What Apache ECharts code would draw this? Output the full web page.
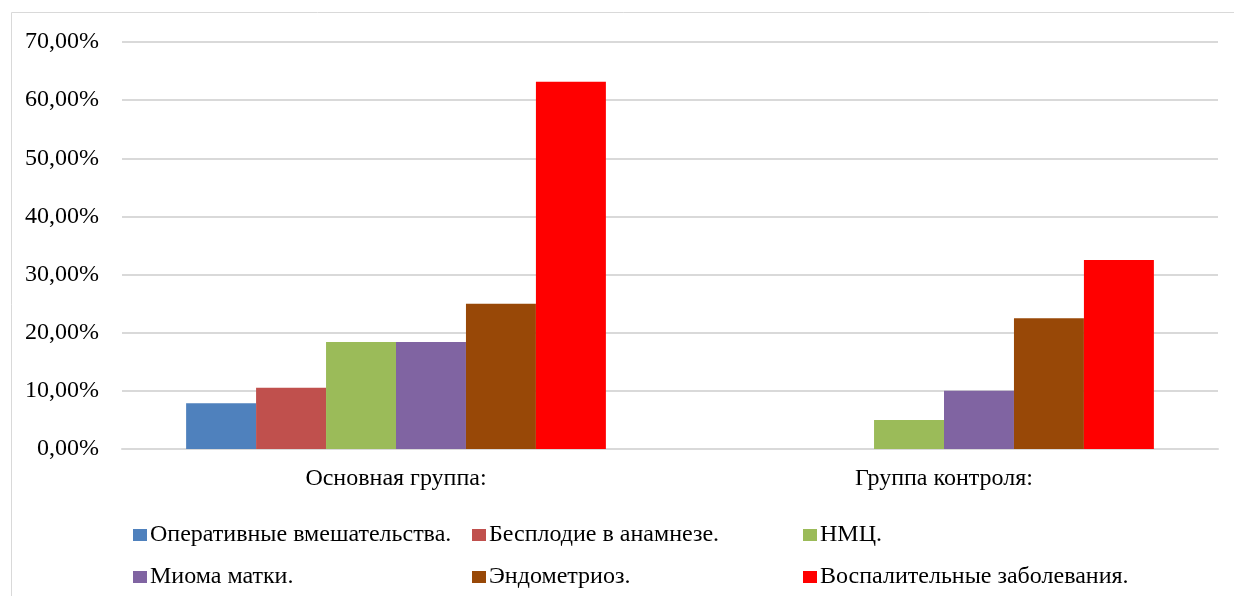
<!DOCTYPE html>
<html><head><meta charset="utf-8">
<script src="https://cdn.jsdelivr.net/npm/echarts@6/dist/echarts.min.js"></script>
<style>html,body{margin:0;padding:0;background:#fff}#c{width:1234px;height:596px}</style>
</head><body><div id="c"></div>
<script>
const categories = ['Основная группа:', 'Группа контроля:'];
const seriesNames = ['Оперативные вмешательства.', 'Бесплодие в анамнезе.', 'НМЦ.', 'Миома матки.', 'Эндометриоз.', 'Воспалительные заболевания.'];
const operative = [7.89, null];
const infertility = [10.53, null];
const nmc = [18.42, 5.0];
const myoma = [18.42, 10.0];
const endometriosis = [25.0, 22.5];
const inflammatory = [63.16, 32.5];
const colors = ['#4F81BD', '#C0504D', '#9BBB59', '#8064A2', '#984807', '#FF0000'];
const values = [operative, infertility, nmc, myoma, endometriosis, inflammatory];

const font = '"Liberation Serif", "Times New Roman", serif';
const FS = 24;
const chart = echarts.init(document.getElementById('c'));
const legendCols = [[0, 3], [1, 4], [2, 5]];
const legendLeft = [133, 472, 803];
chart.setOption({
  animation: false,
  textStyle: { fontFamily: font },
  graphic: [{ type: 'rect', shape: { x: 11.5, y: 12.5, width: 1240, height: 600 }, style: { fill: 'none', stroke: '#D9D9D9', lineWidth: 1 } }],
  grid: { left: 122, right: 16, top: 42, bottom: 147 },
  xAxis: {
    type: 'category', data: categories,
    axisLine: { lineStyle: { color: '#D9D9D9', width: 2 } },
    axisTick: { show: false },
    axisLabel: { color: '#000', fontSize: FS, fontFamily: font, margin: 18 }
  },
  yAxis: {
    type: 'value', min: 0, max: 70, interval: 10,
    axisLine: { show: false }, axisTick: { show: false },
    splitLine: { lineStyle: { color: '#D9D9D9', width: 2 } },
    axisLabel: { color: '#000', fontSize: FS, fontFamily: font, margin: 23,
      formatter: v => v.toFixed(2).replace('.', ',') + '%' }
  },
  legend: legendCols.map((idx, i) => ({
    data: idx.map(k => seriesNames[k]),
    orient: 'vertical', left: legendLeft[i], top: 523, itemGap: 18, padding: 0,
    itemWidth: 14, itemHeight: 12, icon: 'rect',
    textStyle: { color: '#000', fontSize: FS, lineHeight: 24, fontFamily: font, padding: [0, 0, 0, -2] }
  })),
  series: seriesNames.map((n, i) => ({
    name: n, type: 'bar', data: values[i], barGap: '0%', barCategoryGap: '23.4%',
    itemStyle: { color: colors[i] }
  }))
});
</script></body></html>
